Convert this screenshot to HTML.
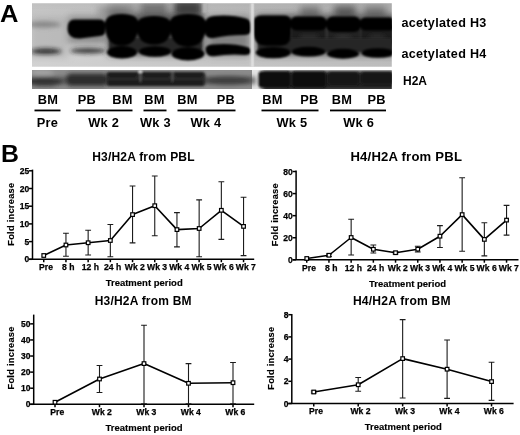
<!DOCTYPE html>
<html><head><meta charset="utf-8"><title>Figure</title>
<style>
html,body{margin:0;padding:0;background:#fff;}
body{width:520px;height:435px;overflow:hidden;font-family:"Liberation Sans", Arial, Helvetica, sans-serif;}
svg{display:block;}
</style></head>
<body>
<svg width="520" height="435" viewBox="0 0 520 435">
<rect width="520" height="435" fill="#fff"/>
<defs>
<filter id="b0" x="-20%" y="-40%" width="140%" height="180%"><feGaussianBlur stdDeviation="0.8"/></filter>
<filter id="b1" x="-20%" y="-40%" width="140%" height="180%"><feGaussianBlur stdDeviation="1.2"/></filter>
<filter id="b2" x="-20%" y="-60%" width="140%" height="220%"><feGaussianBlur stdDeviation="2"/></filter>
<filter id="b3" x="-20%" y="-60%" width="140%" height="220%"><feGaussianBlur stdDeviation="3.5"/></filter>
<linearGradient id="bg1" x1="0" x2="1" y1="0" y2="0"><stop offset="0" stop-color="#d3d3d3"/><stop offset="0.18" stop-color="#cecece"/><stop offset="0.6" stop-color="#c4c4c4"/><stop offset="1" stop-color="#bcbcbc"/></linearGradient>
<linearGradient id="bg2" x1="0" x2="0" y1="0" y2="1"><stop offset="0" stop-color="#000" stop-opacity="0.09"/><stop offset="0.45" stop-color="#000" stop-opacity="0"/></linearGradient>
<clipPath id="c1"><rect x="32" y="3.3" width="359.8" height="63.5"/></clipPath>
<clipPath id="c2"><rect x="32" y="70" width="359.8" height="18.9"/></clipPath>
</defs>
<g clip-path="url(#c1)">
<rect x="30" y="2" width="364" height="66" fill="url(#bg1)"/>
<rect x="30" y="2" width="364" height="66" fill="url(#bg2)"/>
<g filter="url(#b3)">
<rect x="30" y="16" width="38" height="42" fill="#999" opacity="0.4"/>
<rect x="68" y="16" width="38" height="28" fill="#555" opacity="0.55"/>
<rect x="108" y="14" width="96" height="41" fill="#333" opacity="0.8"/>
<rect x="208" y="16" width="42" height="40" fill="#555" opacity="0.6"/>
<rect x="257" y="15" width="142" height="40" fill="#333" opacity="0.8"/>
<rect x="108" y="3" width="28" height="11" fill="#555" opacity="0.4"/>
<rect x="140" y="2" width="28" height="12" fill="#444" opacity="0.6"/>
<rect x="174" y="0" width="28" height="14" fill="#2a2a2a" opacity="0.85"/>
<rect x="98" y="7" width="30" height="7" fill="#666" opacity="0.55"/>
<rect x="300" y="7" width="20" height="8" fill="#555" opacity="0.7"/>
<rect x="334" y="6" width="22" height="9" fill="#444" opacity="0.8"/>
<rect x="364" y="7" width="22" height="8" fill="#555" opacity="0.7"/>
</g>
<g filter="url(#b2)">
<ellipse cx="44" cy="24.5" rx="17" ry="3" fill="#666" opacity="0.6"/>
<ellipse cx="46" cy="51.3" rx="15.500" ry="2.700" fill="#1a1a1a" opacity="0.9"/>
<ellipse cx="88" cy="50.8" rx="18" ry="2.8" fill="#222" opacity="0.85"/>
</g>
<g filter="url(#b1)">
<rect x="291" y="24" width="35" height="20.500" rx="6" fill="#1c1c1c"/>
<rect x="327" y="24" width="33" height="22" rx="6" fill="#202020"/>
<rect x="360.500" y="24" width="34" height="21" rx="6" fill="#1e1e1e"/>
</g>
<g filter="url(#b2)">
<ellipse cx="309" cy="38" rx="10" ry="3.500" fill="#444" opacity="0.45"/>
<ellipse cx="343" cy="39" rx="9" ry="3.500" fill="#4a4a4a" opacity="0.5"/>
<ellipse cx="377" cy="38" rx="9" ry="3.500" fill="#444" opacity="0.4"/>
</g>
<g filter="url(#b1)" fill="#262626">
<rect x="109" y="38" width="93" height="14" rx="4"/>
<rect x="258" y="38" width="136" height="14" rx="4"/>
</g>
<g filter="url(#b1)" fill="#060606">
<path d="M74 19.5 H99 Q105 19.5 105 24 V32 Q105 35.500 100 36 L80 38.5 Q68 39 67.5 29.500 Q67 20 74 19.5Z"/>
<path d="M105 24 Q105 14 121.500 14 Q138.500 14 138.500 24 Q138.500 45.500 121.500 45.5 Q105 45.500 105 24Z"/>
<path d="M136.500 26 Q136.500 16 154 16 Q171.500 16 171.500 26 Q171.500 44.500 154 44.5 Q136.500 44.500 136.500 26Z"/>
<path d="M169.500 24 Q169.500 14 188 14 Q206 14 206 24 Q206 46.700 188 46.7 Q169.500 46.700 169.500 24Z"/>
<path d="M205 24 Q205 16.5 214 16 Q232 14.500 246 18.5 Q251 20 251 26 V30 Q251 35 244 35 Q228 35 214 38 Q205 39 205 32Z"/>
<path d="M253.800 21 Q253.800 15.500 262 15.500 H283 Q291 15.500 291 21 V34 Q291 45.800 280 45.800 H267 Q254.500 45.800 253.800 34Z"/>
<rect x="290" y="16.5" width="37" height="14" rx="6.5"/>
<rect x="326" y="16.5" width="35" height="15.5" rx="7"/>
<rect x="359.5" y="17.500" width="36" height="13" rx="6"/>
<ellipse cx="122" cy="52.3" rx="15" ry="6.2"/>
<ellipse cx="155" cy="51.5" rx="16" ry="5.3"/>
<ellipse cx="188" cy="53.800" rx="16.5" ry="6.6"/>
<path d="M205.500 50 Q205 45 212 44.500 Q232 42.500 247 47 Q251.200 48.500 250.800 51.5 Q250.300 55 245 55 Q230 53.500 214 56.300 Q206.500 57 205.500 50Z"/>
<ellipse cx="273.3" cy="52.6" rx="17.5" ry="5.7"/>
<ellipse cx="308.5" cy="51.700" rx="16.8" ry="4.9"/>
<ellipse cx="343" cy="53.800" rx="16" ry="5"/>
<ellipse cx="378" cy="53" rx="16.5" ry="4.8"/>
</g>
<rect x="202.500" y="2" width="3.500" height="11" fill="#ccc" opacity="0.55" filter="url(#b1)"/>
<rect x="250.500" y="2" width="3.200" height="66" fill="#d8d8d8" opacity="0.8" filter="url(#b0)"/>
<rect x="252" y="2" width="1.200" height="66" fill="#f4f4f4" filter="url(#b0)"/>
</g>
<g clip-path="url(#c2)">
<rect x="30" y="69" width="223" height="21" fill="#8c8c8c"/>
<rect x="252" y="69" width="142" height="21" fill="#e4e4e4"/>
<g filter="url(#b2)">
<rect x="28" y="76.500" width="228" height="8" fill="#4a4a4a" opacity="0.7"/>
<ellipse cx="45" cy="82" rx="18" ry="4.200" fill="#2a2a2a" opacity="0.85"/>
<ellipse cx="42" cy="72.500" rx="12" ry="2.500" fill="#bbb" opacity="0.6"/>
<rect x="66" y="73.500" width="42" height="12.500" rx="5" fill="#222" opacity="0.85"/>
<ellipse cx="228" cy="80.500" rx="23" ry="4.500" fill="#333" opacity="0.75"/>
<rect x="262" y="71" width="136" height="20" fill="#222"/>
</g>
<g filter="url(#b1)">
<rect x="106" y="71.800" width="99.500" height="14.500" rx="4" fill="#2c2c2c"/>
<rect x="108" y="72.500" width="29" height="5" rx="2.500" fill="#1a1a1a"/>
<rect x="143" y="72.500" width="27" height="5" rx="2.500" fill="#1a1a1a"/>
<rect x="175" y="72.500" width="28" height="5" rx="2.500" fill="#1a1a1a"/>
<rect x="108" y="80" width="95" height="5.500" rx="2.500" fill="#1a1a1a"/>
<rect x="139.800" y="70" width="1.300" height="12" fill="#888" opacity="0.6"/>
<rect x="171.800" y="70" width="1.300" height="12" fill="#888" opacity="0.5"/>
<rect x="258.500" y="71.500" width="32" height="16" rx="3" fill="#0e0e0e"/>
<rect x="292" y="71.500" width="34" height="16" rx="3" fill="#0e0e0e"/>
<rect x="328" y="72" width="31" height="13" rx="3" fill="#161616"/>
<rect x="361" y="72" width="32" height="12.500" rx="3" fill="#181818"/>
<circle cx="140.3" cy="71.500" r="1.5" fill="#eee"/>
</g>
</g>
<g font-family='"Liberation Sans", Arial, Helvetica, sans-serif' font-weight="bold" fill="#000">
<text transform="translate(0.1 21.8) scale(1.03 1)" font-size="24.8" text-anchor="start" >A</text>
<text x="0.9" y="161.6" font-size="24.8" text-anchor="start" >B</text>
<text transform="translate(401.4 27) scale(1.05 1)" font-size="12" letter-spacing="0.3">acetylated H3</text>
<text transform="translate(401.4 58) scale(1.05 1)" font-size="12" letter-spacing="0.3">acetylated H4</text>
<text x="403" y="84.5" font-size="12" text-anchor="start" >H2A</text>
<text transform="translate(37.7 104.3) scale(1.06 1)" font-size="12.1" text-anchor="start" letter-spacing="0.2">BM</text>
<text transform="translate(77.7 104.3) scale(1.06 1)" font-size="12.1" text-anchor="start" letter-spacing="0.2">PB</text>
<text transform="translate(112.2 104.3) scale(1.06 1)" font-size="12.1" text-anchor="start" letter-spacing="0.2">BM</text>
<text transform="translate(144.2 104.3) scale(1.06 1)" font-size="12.1" text-anchor="start" letter-spacing="0.2">BM</text>
<text transform="translate(177.2 104.3) scale(1.06 1)" font-size="12.1" text-anchor="start" letter-spacing="0.2">BM</text>
<text transform="translate(216.7 104.3) scale(1.06 1)" font-size="12.1" text-anchor="start" letter-spacing="0.2">PB</text>
<text transform="translate(262.2 104.3) scale(1.06 1)" font-size="12.1" text-anchor="start" letter-spacing="0.2">BM</text>
<text transform="translate(300.2 104.3) scale(1.06 1)" font-size="12.1" text-anchor="start" letter-spacing="0.2">PB</text>
<text transform="translate(331.7 104.3) scale(1.06 1)" font-size="12.1" text-anchor="start" letter-spacing="0.2">BM</text>
<text transform="translate(367.4 104.3) scale(1.06 1)" font-size="12.1" text-anchor="start" letter-spacing="0.2">PB</text>
<rect x="34.5" y="109.55" width="26.0" height="1.8"/>
<rect x="76" y="109.55" width="56.5" height="1.8"/>
<rect x="143.5" y="109.55" width="23.0" height="1.8"/>
<rect x="177.5" y="109.55" width="58.0" height="1.8"/>
<rect x="261.5" y="109.55" width="57.0" height="1.8"/>
<rect x="330" y="109.55" width="56" height="1.8"/>
<text transform="translate(36.8 127.3) scale(1.06 1)" font-size="12.1" text-anchor="start" letter-spacing="0.2">Pre</text>
<text transform="translate(88.25 127.3) scale(1.06 1)" font-size="12.1" text-anchor="start" letter-spacing="0.2">Wk 2</text>
<text transform="translate(140.0 127.3) scale(1.06 1)" font-size="12.1" text-anchor="start" letter-spacing="0.2">Wk 3</text>
<text transform="translate(190.5 127.3) scale(1.06 1)" font-size="12.1" text-anchor="start" letter-spacing="0.2">Wk 4</text>
<text transform="translate(276.5 127.3) scale(1.06 1)" font-size="12.1" text-anchor="start" letter-spacing="0.2">Wk 5</text>
<text transform="translate(343.25 127.3) scale(1.06 1)" font-size="12.1" text-anchor="start" letter-spacing="0.2">Wk 6</text>
<g stroke="#000" stroke-width="1.5" fill="none">
<path d="M32.5 169.60000000000002 V259.3"/>
<path d="M29.0 259.3 H254.2"/>
<path d="M29.0 259.30 H32.5"/>
<path d="M29.0 241.60 H32.5"/>
<path d="M29.0 223.90 H32.5"/>
<path d="M29.0 206.20 H32.5"/>
<path d="M29.0 188.50 H32.5"/>
<path d="M29.0 170.80 H32.5"/>
<path d="M43.75 259.3 V262.20"/>
<path d="M65.95 259.3 V262.20"/>
<path d="M88.15 259.3 V262.20"/>
<path d="M110.35 259.3 V262.20"/>
<path d="M132.55 259.3 V262.20"/>
<path d="M154.75 259.3 V262.20"/>
<path d="M176.95 259.3 V262.20"/>
<path d="M199.15 259.3 V262.20"/>
<path d="M221.35 259.3 V262.20"/>
<path d="M243.55 259.3 V262.20"/>
</g>
<text x="29.2" y="262.4" font-size="8.5" text-anchor="end" stroke="#000" stroke-width="0.25">0</text>
<text x="29.2" y="244.7" font-size="8.5" text-anchor="end" stroke="#000" stroke-width="0.25">5</text>
<text x="29.2" y="227.0" font-size="8.5" text-anchor="end" stroke="#000" stroke-width="0.25">10</text>
<text x="29.2" y="209.3" font-size="8.5" text-anchor="end" stroke="#000" stroke-width="0.25">15</text>
<text x="29.2" y="191.6" font-size="8.5" text-anchor="end" stroke="#000" stroke-width="0.25">20</text>
<text x="29.2" y="173.9" font-size="8.5" text-anchor="end" stroke="#000" stroke-width="0.25">25</text>
<text x="46.05" y="270.1" font-size="8.6" text-anchor="middle" stroke="#000" stroke-width="0.25">Pre</text>
<text x="68.25" y="270.1" font-size="8.6" text-anchor="middle" stroke="#000" stroke-width="0.25">8 h</text>
<text x="90.45" y="270.1" font-size="8.6" text-anchor="middle" stroke="#000" stroke-width="0.25">12 h</text>
<text x="112.64999999999999" y="270.1" font-size="8.6" text-anchor="middle" stroke="#000" stroke-width="0.25">24 h</text>
<text x="134.85000000000002" y="270.1" font-size="8.6" text-anchor="middle" stroke="#000" stroke-width="0.25">Wk 2</text>
<text x="157.05" y="270.1" font-size="8.6" text-anchor="middle" stroke="#000" stroke-width="0.25">Wk 3</text>
<text x="179.25" y="270.1" font-size="8.6" text-anchor="middle" stroke="#000" stroke-width="0.25">Wk 4</text>
<text x="201.45000000000002" y="270.1" font-size="8.6" text-anchor="middle" stroke="#000" stroke-width="0.25">Wk 5</text>
<text x="223.65" y="270.1" font-size="8.6" text-anchor="middle" stroke="#000" stroke-width="0.25">Wk 6</text>
<text x="245.85000000000002" y="270.1" font-size="8.6" text-anchor="middle" stroke="#000" stroke-width="0.25">Wk 7</text>
<g stroke="#1c1c1c" stroke-width="1.1" fill="none">
<path d="M65.95 233.25 V256.25 M63.05 233.25 H68.85 M63.05 256.25 H68.85"/>
<path d="M88.15 230.25 V255 M85.25 230.25 H91.05 M85.25 255 H91.05"/>
<path d="M110.35 224.5 V256.75 M107.45 224.5 H113.25 M107.45 256.75 H113.25"/>
<path d="M132.55 186 V242.9 M129.65 186 H135.45 M129.65 242.9 H135.45"/>
<path d="M154.75 176 V235.7 M151.85 176 H157.65 M151.85 235.7 H157.65"/>
<path d="M176.95 212.6 V246.9 M174.05 212.6 H179.85 M174.05 246.9 H179.85"/>
<path d="M199.15 199.9 V256.7 M196.25 199.9 H202.05 M196.25 256.7 H202.05"/>
<path d="M221.35 181.7 V239.4 M218.45 181.7 H224.25 M218.45 239.4 H224.25"/>
<path d="M243.55 197.3 V255.6 M240.65 197.3 H246.45 M240.65 255.6 H246.45"/>
</g>
<polyline points="43.75,255.5 65.95,245 88.15,242.75 110.35,240.5 132.55,214.6 154.75,205.7 176.95,229.6 199.15,228.5 221.35,210.3 243.55,226.4" fill="none" stroke="#000" stroke-width="1.6" stroke-linejoin="round"/>
<rect x="41.95" y="253.70" width="3.6" height="3.6" fill="#fff" stroke="#000" stroke-width="1.2"/>
<rect x="64.15" y="243.20" width="3.6" height="3.6" fill="#fff" stroke="#000" stroke-width="1.2"/>
<rect x="86.35" y="240.95" width="3.6" height="3.6" fill="#fff" stroke="#000" stroke-width="1.2"/>
<rect x="108.55" y="238.70" width="3.6" height="3.6" fill="#fff" stroke="#000" stroke-width="1.2"/>
<rect x="130.75" y="212.80" width="3.6" height="3.6" fill="#fff" stroke="#000" stroke-width="1.2"/>
<rect x="152.95" y="203.90" width="3.6" height="3.6" fill="#fff" stroke="#000" stroke-width="1.2"/>
<rect x="175.15" y="227.80" width="3.6" height="3.6" fill="#fff" stroke="#000" stroke-width="1.2"/>
<rect x="197.35" y="226.70" width="3.6" height="3.6" fill="#fff" stroke="#000" stroke-width="1.2"/>
<rect x="219.55" y="208.50" width="3.6" height="3.6" fill="#fff" stroke="#000" stroke-width="1.2"/>
<rect x="241.75" y="224.60" width="3.6" height="3.6" fill="#fff" stroke="#000" stroke-width="1.2"/>
<text x="92.2" y="160.5" font-size="12.0" text-anchor="start" letter-spacing="0.2">H3/H2A from PBL</text>
<text x="144.2" y="286.0" font-size="9.5" text-anchor="middle" stroke="#000" stroke-width="0.15">Treatment period</text>
<text transform="translate(13.7 214.2) rotate(-90)" font-size="9.3" letter-spacing="0.25" text-anchor="middle" stroke="#000" stroke-width="0.15">Fold increase</text>
<g stroke="#000" stroke-width="1.5" fill="none">
<path d="M296.1 170.5 V259.8"/>
<path d="M292.6 259.8 H518.5"/>
<path d="M292.6 259.80 H296.1"/>
<path d="M292.6 237.73 H296.1"/>
<path d="M292.6 215.66 H296.1"/>
<path d="M292.6 193.59 H296.1"/>
<path d="M292.6 171.52 H296.1"/>
<path d="M306.75 259.8 V262.70"/>
<path d="M328.95 259.8 V262.70"/>
<path d="M351.15 259.8 V262.70"/>
<path d="M373.35 259.8 V262.70"/>
<path d="M395.55 259.8 V262.70"/>
<path d="M417.75 259.8 V262.70"/>
<path d="M439.95 259.8 V262.70"/>
<path d="M462.15 259.8 V262.70"/>
<path d="M484.35 259.8 V262.70"/>
<path d="M506.55 259.8 V262.70"/>
</g>
<text x="292.8" y="262.9" font-size="8.5" text-anchor="end" stroke="#000" stroke-width="0.25">0</text>
<text x="292.8" y="240.83" font-size="8.5" text-anchor="end" stroke="#000" stroke-width="0.25">20</text>
<text x="292.8" y="218.76" font-size="8.5" text-anchor="end" stroke="#000" stroke-width="0.25">40</text>
<text x="292.8" y="196.69" font-size="8.5" text-anchor="end" stroke="#000" stroke-width="0.25">60</text>
<text x="292.8" y="174.62" font-size="8.5" text-anchor="end" stroke="#000" stroke-width="0.25">80</text>
<text x="309.05" y="270.90000000000003" font-size="8.6" text-anchor="middle" stroke="#000" stroke-width="0.25">Pre</text>
<text x="331.25" y="270.90000000000003" font-size="8.6" text-anchor="middle" stroke="#000" stroke-width="0.25">8 h</text>
<text x="353.45" y="270.90000000000003" font-size="8.6" text-anchor="middle" stroke="#000" stroke-width="0.25">12 h</text>
<text x="375.65000000000003" y="270.90000000000003" font-size="8.6" text-anchor="middle" stroke="#000" stroke-width="0.25">24 h</text>
<text x="397.85" y="270.90000000000003" font-size="8.6" text-anchor="middle" stroke="#000" stroke-width="0.25">Wk 2</text>
<text x="420.05" y="270.90000000000003" font-size="8.6" text-anchor="middle" stroke="#000" stroke-width="0.25">Wk 3</text>
<text x="442.25" y="270.90000000000003" font-size="8.6" text-anchor="middle" stroke="#000" stroke-width="0.25">Wk 4</text>
<text x="464.45" y="270.90000000000003" font-size="8.6" text-anchor="middle" stroke="#000" stroke-width="0.25">Wk 5</text>
<text x="486.65000000000003" y="270.90000000000003" font-size="8.6" text-anchor="middle" stroke="#000" stroke-width="0.25">Wk 6</text>
<text x="508.85" y="270.90000000000003" font-size="8.6" text-anchor="middle" stroke="#000" stroke-width="0.25">Wk 7</text>
<g stroke="#1c1c1c" stroke-width="1.1" fill="none">
<path d="M328.95 254 V256.5 M326.05 254 H331.85 M326.05 256.5 H331.85"/>
<path d="M351.15 219.25 V255 M348.25 219.25 H354.05 M348.25 255 H354.05"/>
<path d="M373.35 245 V253 M370.45 245 H376.25 M370.45 253 H376.25"/>
<path d="M395.55 251.5 V254 M392.65 251.5 H398.45 M392.65 254 H398.45"/>
<path d="M417.75 246.3 V252 M414.85 246.3 H420.65 M414.85 252 H420.65"/>
<path d="M439.95 225.6 V247.5 M437.05 225.6 H442.85 M437.05 247.5 H442.85"/>
<path d="M462.15 177.7 V251.2 M459.25 177.7 H465.05 M459.25 251.2 H465.05"/>
<path d="M484.35 222.7 V255.9 M481.45 222.7 H487.25 M481.45 255.9 H487.25"/>
<path d="M506.55 205.4 V235.1 M503.65 205.4 H509.45 M503.65 235.1 H509.45"/>
</g>
<polyline points="306.75,258.5 328.95,255.25 351.15,237.5 373.35,249.25 395.55,252.7 417.75,249.2 439.95,236.2 462.15,214.6 484.35,239.4 506.55,220.1" fill="none" stroke="#000" stroke-width="1.6" stroke-linejoin="round"/>
<rect x="304.95" y="256.70" width="3.6" height="3.6" fill="#fff" stroke="#000" stroke-width="1.2"/>
<rect x="327.15" y="253.45" width="3.6" height="3.6" fill="#fff" stroke="#000" stroke-width="1.2"/>
<rect x="349.35" y="235.70" width="3.6" height="3.6" fill="#fff" stroke="#000" stroke-width="1.2"/>
<rect x="371.55" y="247.45" width="3.6" height="3.6" fill="#fff" stroke="#000" stroke-width="1.2"/>
<rect x="393.75" y="250.90" width="3.6" height="3.6" fill="#fff" stroke="#000" stroke-width="1.2"/>
<rect x="415.95" y="247.40" width="3.6" height="3.6" fill="#fff" stroke="#000" stroke-width="1.2"/>
<rect x="438.15" y="234.40" width="3.6" height="3.6" fill="#fff" stroke="#000" stroke-width="1.2"/>
<rect x="460.35" y="212.80" width="3.6" height="3.6" fill="#fff" stroke="#000" stroke-width="1.2"/>
<rect x="482.55" y="237.60" width="3.6" height="3.6" fill="#fff" stroke="#000" stroke-width="1.2"/>
<rect x="504.75" y="218.30" width="3.6" height="3.6" fill="#fff" stroke="#000" stroke-width="1.2"/>
<text x="350.45" y="160.5" font-size="13.1" text-anchor="start" letter-spacing="0.2">H4/H2A from PBL</text>
<text x="407.5" y="286.5" font-size="9.5" text-anchor="middle" stroke="#000" stroke-width="0.15">Treatment period</text>
<text transform="translate(277.8 214.7) rotate(-90)" font-size="9.3" letter-spacing="0.25" text-anchor="middle" stroke="#000" stroke-width="0.15">Fold increase</text>
<g stroke="#000" stroke-width="1.5" fill="none">
<path d="M33.7 314.6 V404.3"/>
<path d="M30.200000000000003 404.3 H254.2"/>
<path d="M30.200000000000003 404.30 H33.7"/>
<path d="M30.200000000000003 388.21 H33.7"/>
<path d="M30.200000000000003 372.12 H33.7"/>
<path d="M30.200000000000003 356.03 H33.7"/>
<path d="M30.200000000000003 339.94 H33.7"/>
<path d="M30.200000000000003 323.85 H33.7"/>
<path d="M55.0 404.3 V407.20"/>
<path d="M99.5 404.3 V407.20"/>
<path d="M144.0 404.3 V407.20"/>
<path d="M188.5 404.3 V407.20"/>
<path d="M233.0 404.3 V407.20"/>
</g>
<text x="30.400000000000002" y="407.4" font-size="8.5" text-anchor="end" stroke="#000" stroke-width="0.25">0</text>
<text x="30.400000000000002" y="391.31" font-size="8.5" text-anchor="end" stroke="#000" stroke-width="0.25">10</text>
<text x="30.400000000000002" y="375.22" font-size="8.5" text-anchor="end" stroke="#000" stroke-width="0.25">20</text>
<text x="30.400000000000002" y="359.13" font-size="8.5" text-anchor="end" stroke="#000" stroke-width="0.25">30</text>
<text x="30.400000000000002" y="343.04" font-size="8.5" text-anchor="end" stroke="#000" stroke-width="0.25">40</text>
<text x="30.400000000000002" y="326.95" font-size="8.5" text-anchor="end" stroke="#000" stroke-width="0.25">50</text>
<text x="57.3" y="415.2" font-size="8.6" text-anchor="middle" stroke="#000" stroke-width="0.25">Pre</text>
<text x="101.8" y="415.2" font-size="8.6" text-anchor="middle" stroke="#000" stroke-width="0.25">Wk 2</text>
<text x="146.3" y="415.2" font-size="8.6" text-anchor="middle" stroke="#000" stroke-width="0.25">Wk 3</text>
<text x="190.8" y="415.2" font-size="8.6" text-anchor="middle" stroke="#000" stroke-width="0.25">Wk 4</text>
<text x="235.3" y="415.2" font-size="8.6" text-anchor="middle" stroke="#000" stroke-width="0.25">Wk 6</text>
<g stroke="#1c1c1c" stroke-width="1.1" fill="none">
<path d="M99.5 365.5 V392.5 M96.60 365.5 H102.40 M96.60 392.5 H102.40"/>
<path d="M144.0 325.3 V403.7 M141.10 325.3 H146.90 M141.10 403.7 H146.90"/>
<path d="M188.5 363.6 V403.7 M185.60 363.6 H191.40 M185.60 403.7 H191.40"/>
<path d="M233.0 362.5 V403.7 M230.10 362.5 H235.90 M230.10 403.7 H235.90"/>
</g>
<polyline points="55.0,402.25 99.5,379 144.0,363.6 188.5,383.3 233.0,382.7" fill="none" stroke="#000" stroke-width="1.6" stroke-linejoin="round"/>
<rect x="53.20" y="400.45" width="3.6" height="3.6" fill="#fff" stroke="#000" stroke-width="1.2"/>
<rect x="97.70" y="377.20" width="3.6" height="3.6" fill="#fff" stroke="#000" stroke-width="1.2"/>
<rect x="142.20" y="361.80" width="3.6" height="3.6" fill="#fff" stroke="#000" stroke-width="1.2"/>
<rect x="186.70" y="381.50" width="3.6" height="3.6" fill="#fff" stroke="#000" stroke-width="1.2"/>
<rect x="231.20" y="380.90" width="3.6" height="3.6" fill="#fff" stroke="#000" stroke-width="1.2"/>
<text x="94.7" y="305" font-size="12.0" text-anchor="start" letter-spacing="0.2">H3/H2A from BM</text>
<text x="144.1" y="431.0" font-size="9.5" text-anchor="middle" stroke="#000" stroke-width="0.15">Treatment period</text>
<text transform="translate(14.4 357.9) rotate(-90)" font-size="9.3" letter-spacing="0.25" text-anchor="middle" stroke="#000" stroke-width="0.15">Fold increase</text>
<g stroke="#000" stroke-width="1.5" fill="none">
<path d="M291.8 314.05 V403.5"/>
<path d="M288.3 403.5 H513.6"/>
<path d="M288.3 403.50 H291.8"/>
<path d="M288.3 381.30 H291.8"/>
<path d="M288.3 359.10 H291.8"/>
<path d="M288.3 336.90 H291.8"/>
<path d="M288.3 314.70 H291.8"/>
<path d="M313.75 403.5 V406.40"/>
<path d="M358.2 403.5 V406.40"/>
<path d="M402.65 403.5 V406.40"/>
<path d="M447.1 403.5 V406.40"/>
<path d="M491.55 403.5 V406.40"/>
</g>
<text x="288.5" y="406.6" font-size="8.5" text-anchor="end" stroke="#000" stroke-width="0.25">0</text>
<text x="288.5" y="384.4" font-size="8.5" text-anchor="end" stroke="#000" stroke-width="0.25">2</text>
<text x="288.5" y="362.2" font-size="8.5" text-anchor="end" stroke="#000" stroke-width="0.25">4</text>
<text x="288.5" y="340.0" font-size="8.5" text-anchor="end" stroke="#000" stroke-width="0.25">6</text>
<text x="288.5" y="317.8" font-size="8.5" text-anchor="end" stroke="#000" stroke-width="0.25">8</text>
<text x="316.05" y="414.3" font-size="8.6" text-anchor="middle" stroke="#000" stroke-width="0.25">Pre</text>
<text x="360.5" y="414.3" font-size="8.6" text-anchor="middle" stroke="#000" stroke-width="0.25">Wk 2</text>
<text x="404.95" y="414.3" font-size="8.6" text-anchor="middle" stroke="#000" stroke-width="0.25">Wk 3</text>
<text x="449.40000000000003" y="414.3" font-size="8.6" text-anchor="middle" stroke="#000" stroke-width="0.25">Wk 4</text>
<text x="493.85" y="414.3" font-size="8.6" text-anchor="middle" stroke="#000" stroke-width="0.25">Wk 6</text>
<g stroke="#1c1c1c" stroke-width="1.1" fill="none">
<path d="M313.75 391 V393 M310.85 391 H316.65 M310.85 393 H316.65"/>
<path d="M358.2 377.5 V391.25 M355.30 377.5 H361.10 M355.30 391.25 H361.10"/>
<path d="M402.65 319.6 V398 M399.75 319.6 H405.55 M399.75 398 H405.55"/>
<path d="M447.1 340 V398.4 M444.20 340 H450.00 M444.20 398.4 H450.00"/>
<path d="M491.55 362.3 V400.4 M488.65 362.3 H494.45 M488.65 400.4 H494.45"/>
</g>
<polyline points="313.75,392 358.2,384.75 402.65,358.6 447.1,369.2 491.55,381.6" fill="none" stroke="#000" stroke-width="1.6" stroke-linejoin="round"/>
<rect x="311.95" y="390.20" width="3.6" height="3.6" fill="#fff" stroke="#000" stroke-width="1.2"/>
<rect x="356.40" y="382.95" width="3.6" height="3.6" fill="#fff" stroke="#000" stroke-width="1.2"/>
<rect x="400.85" y="356.80" width="3.6" height="3.6" fill="#fff" stroke="#000" stroke-width="1.2"/>
<rect x="445.30" y="367.40" width="3.6" height="3.6" fill="#fff" stroke="#000" stroke-width="1.2"/>
<rect x="489.75" y="379.80" width="3.6" height="3.6" fill="#fff" stroke="#000" stroke-width="1.2"/>
<text x="352.95" y="304.7" font-size="12.1" text-anchor="start" letter-spacing="0.2">H4/H2A from BM</text>
<text x="403.3" y="430.3" font-size="9.5" text-anchor="middle" stroke="#000" stroke-width="0.15">Treatment period</text>
<text transform="translate(273.9 358.2) rotate(-90)" font-size="9.3" letter-spacing="0.25" text-anchor="middle" stroke="#000" stroke-width="0.15">Fold increase</text>
</g>
</svg>
</body></html>
